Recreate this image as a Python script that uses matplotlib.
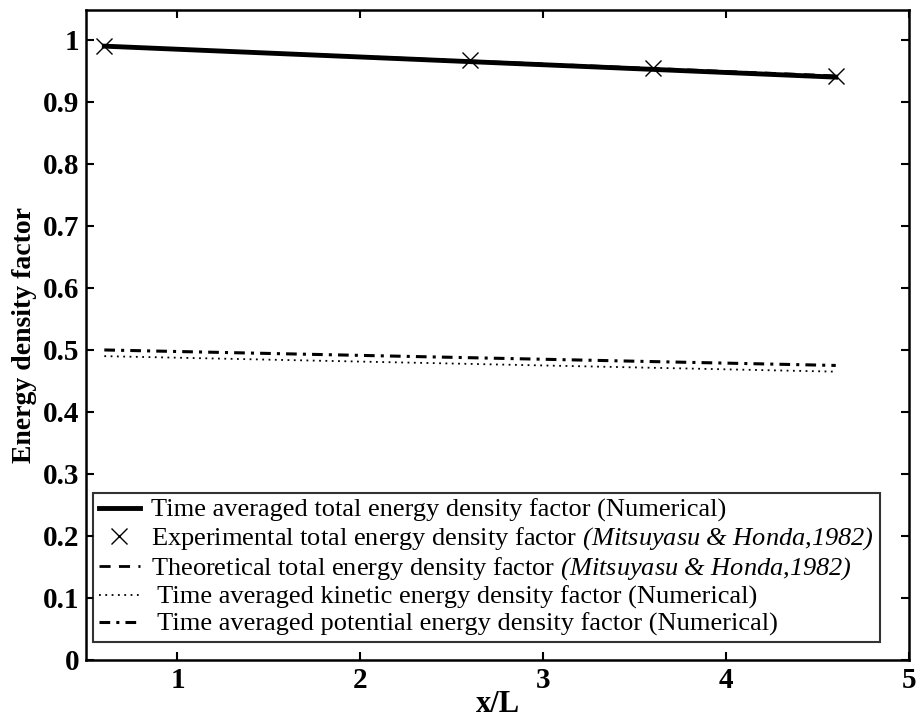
import matplotlib
matplotlib.use("Agg")
import matplotlib.pyplot as plt
import numpy as np

plt.rcParams['font.family'] = ['Liberation Serif', 'DejaVu Serif']
plt.rcParams['mathtext.fontset'] = 'custom'
plt.rcParams['mathtext.it'] = 'Liberation Serif:italic'
plt.rcParams['mathtext.rm'] = 'Liberation Serif:italic'
plt.rcParams['mathtext.default'] = 'it'

# Data
x_line = [0.6, 4.6]
total_num = [0.99, 0.94]
theory_total = [0.99, 0.942]
x_exp = [0.6, 2.6, 3.6, 4.6]
exp_total = [0.99, 0.967, 0.955, 0.942]
kinetic = [0.49, 0.465]
potential = [0.50, 0.475]

labels = [
    "Time averaged total energy density factor (Numerical)",
    r"Experimental total energy density factor $(Mitsuyasu\ &\ Honda{,}1982)$",
    r"Theoretical total energy density factor $(Mitsuyasu\ &\ Honda{,}1982)$",
    " Time averaged kinetic energy density factor (Numerical)",
    " Time averaged potential energy density factor (Numerical)",
]
xticks = [1, 2, 3, 4, 5]
yticks = [0, 0.1, 0.2, 0.3, 0.4, 0.5, 0.6, 0.7, 0.8, 0.9, 1]
yticklabels = ['0', '0.1', '0.2', '0.3', '0.4', '0.5', '0.6', '0.7', '0.8', '0.9', '1']

fig = plt.figure(figsize=(9.19, 7.27), dpi=100)
ax = fig.add_axes([0.0936, 0.0922, 0.8954, 0.8938])

h1, = ax.plot(x_line, total_num, color='black', lw=3.5, ls='-')
h2, = ax.plot(x_exp, exp_total, ls='none', marker='x', ms=12, mew=1.0, color='black')
h3, = ax.plot(x_line, theory_total, color='black', lw=2, ls=(0, (4, 3)))
h4, = ax.plot(x_line, kinetic, color='black', lw=1.3, ls=(0, (1, 2.5)))
h5, = ax.plot(x_line, potential, color='black', lw=2.2, ls=(0, (3.5, 2, 1, 2)))

ax.set_xlim(0.5, 5)
ax.set_ylim(0, 1.048)
ax.set_xticks(xticks)
ax.set_xticklabels([str(t) for t in xticks])
ax.set_yticks(yticks)
ax.set_yticklabels(yticklabels)
ax.tick_params(direction='in', top=True, right=True, length=6, width=1.5,
               labelsize=21, pad=5)
for lab in ax.get_xticklabels() + ax.get_yticklabels():
    lab.set_fontweight('bold')
for s in ax.spines.values():
    s.set_linewidth(1.8)

ax.set_xlabel('x/L', fontsize=22, fontweight='bold', labelpad=-3)
ax.set_ylabel('Energy density factor', fontsize=20, fontweight='bold', labelpad=4)

leg = ax.legend([h1, h2, h3, h4, h5], labels, loc='lower left',
                bbox_to_anchor=(0.009, 0.028), fontsize=19, frameon=True,
                fancybox=False, edgecolor='black', handlelength=1.55,
                handletextpad=0.45, borderpad=0.2, labelspacing=0.12,
                borderaxespad=0)
leg.get_frame().set_linewidth(1.5)

fig.savefig('out.png', dpi=100)
